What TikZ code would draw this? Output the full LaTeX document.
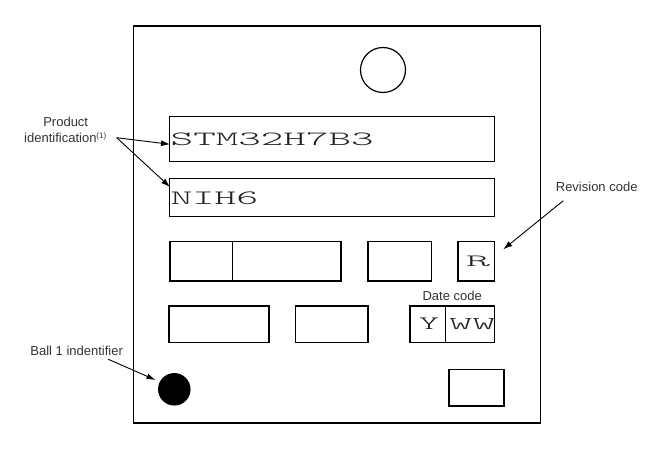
\documentclass[tikz,border=0pt]{standalone}
\usepackage{fontspec}
\setmainfont{Liberation Sans}
\newfontfamily\lightmono{Latin Modern Mono Light}
\usetikzlibrary{arrows.meta}
\definecolor{lbl}{HTML}{333333}
\definecolor{mk}{HTML}{222222}
\tikzset{
  pkg/.style={draw=black, line width=1.6pt},
  fld/.style={draw=black, line width=1.3pt, inner sep=0pt, anchor=north west},
  lab/.style={text=lbl, font=\fontsize{13}{15}\selectfont, inner sep=0pt},
  monotxt/.style={inner sep=0pt, text=mk, font=\fontsize{20}{22}\selectfont\lightmono},
  ptr/.style={draw=black, line width=0.9pt, -{Latex[length=9pt,width=6pt]}},
}
\begin{document}
\begin{tikzpicture}[x=1pt,y=-1pt]
\useasboundingbox (0,0) rectangle (650,449);
% package outline
\node[fld, pkg, minimum width=407pt, minimum height=397pt] (pkgbox) at (132.5,25) {};
% pin-1 circle at top
\node[draw=black, line width=1.2pt, circle, minimum size=45pt, inner sep=0pt] (topc) at (383,70) {};
% product identification lines
\node[fld, minimum width=325pt, minimum height=45pt] (b1) at (169,116) {};
\node[fld, minimum width=325pt, minimum height=38pt] (b2) at (169,178) {};
\node[monotxt, anchor=west] (t1) at (170.5,139.7) {\resizebox{203pt}{12.7pt}{STM32H7B3}};
\node[monotxt, anchor=west] (t2) at (170.5,198) {\resizebox{87.5pt}{12.7pt}{NIH6}};
% row 3
\node[fld, minimum width=62.5pt, minimum height=39.5pt] (r3a) at (169.3,240.7) {};
\node[fld, minimum width=108.6pt, minimum height=39.5pt] (r3b) at (231.8,240.7) {};
\node[fld, minimum width=63.4pt, minimum height=39.5pt] (r3c) at (367.3,240.7) {};
\node[fld, minimum width=36.7pt, minimum height=39.5pt] (r3r) at (457.3,240.7) {};
\node[monotxt] (rtxt) at (478,261.7) {\resizebox{24pt}{10.5pt}{R}};
% row 4
\node[fld, minimum width=100pt, minimum height=36.7pt] (r4a) at (168.3,305.3) {};
\node[fld, minimum width=72.6pt, minimum height=36.7pt] (r4b) at (294.7,305.3) {};
\node[fld, minimum width=35.7pt, minimum height=36.7pt] (r4y) at (409.3,305.3) {};
\node[fld, minimum width=49pt, minimum height=36.7pt] (r4w) at (445,305.3) {};
\node[monotxt] (ytxt) at (429,323.5) {\resizebox{20pt}{11.6pt}{Y}};
\node[monotxt] (wtxt) at (472.3,323.8) {\resizebox{46.5pt}{11pt}{WW}};
\node[lab] (datec) at (452.2,295.5) {Date code};
% row 5
\node[fld, minimum width=55pt, minimum height=36.3pt] (r5) at (448.3,369) {};
% ball 1 dot
\node[fill=black, circle, minimum size=32.5pt, inner sep=0pt] (ball) at (174.3,389.3) {};
% labels
\node[lab] (prod1) at (65.7,122.3) {Product};
\node[lab] (prod2) at (65.5,137.7) {identification\textsuperscript{\fontsize{8}{9}\selectfont(1)}};
\node[lab] (revl) at (596.7,187.3) {Revision code};
\node[lab] (balll) at (76.7,350.7) {Ball 1 indentifier};
% pointer ends
\coordinate (ps) at (116.7,137.7);
\coordinate (pe1) at (170,144.3);
\coordinate (pe2) at (170,187);
\coordinate (rs) at (563.3,200.7);
\coordinate (re) at (503.3,249.3);
\coordinate (bs) at (108.3,359.3);
\coordinate (be) at (155.5,380);
\draw[ptr] (ps) -- (pe1);
\draw[ptr] (ps) -- (pe2);
\draw[ptr] (rs) -- (re);
\draw[ptr] (bs) -- (be);
\end{tikzpicture}
\end{document}
